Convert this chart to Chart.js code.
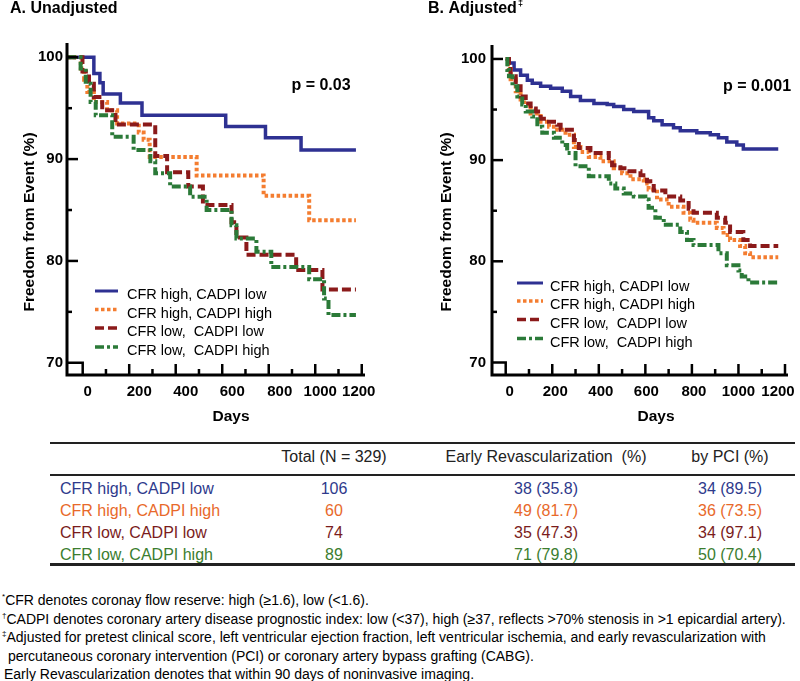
<!DOCTYPE html>
<html><head><meta charset="utf-8">
<script src="https://cdn.jsdelivr.net/npm/chart.js@4.4.1/dist/chart.umd.min.js"></script>
<style>
html,body{margin:0;padding:0;background:#fff;}
#wrap{position:relative;width:800px;height:681px;overflow:hidden;font-family:"Liberation Sans",Arial,sans-serif;color:#000;}
canvas{position:absolute;top:0;}
#cA{left:0;} #cB{left:400px;}
.cell{position:absolute;white-space:pre;font-size:16px;line-height:18px;transform:translate(-50%,-50%);}
.lab{position:absolute;white-space:pre;font-size:16px;line-height:18px;transform:translate(0,-50%);}
.rule{position:absolute;left:50px;width:745px;background:#222;}
.note{position:absolute;white-space:pre;font-size:14px;line-height:16px;transform:translate(0,-50%);}
.note sup{font-size:8px;vertical-align:6px;line-height:0;}
</style></head><body>
<div id="wrap">
<canvas id="cA" width="400" height="430"></canvas>
<canvas id="cB" width="400" height="430"></canvas>
</div>
<script>
// ---------- data ----------
const seriesNames = ['CFR high, CADPI low', 'CFR high, CADPI high', 'CFR low,  CADPI low', 'CFR low,  CADPI high'];
const xTickValues = [0, 100, 200, 300, 400, 500, 600, 700, 800, 900, 1000, 1100, 1200];
const yTickValues = [70, 75, 80, 85, 90, 95, 100];

// Panel A (unadjusted) - days / freedom from event (%)
const daysA_hiLo = [-67, 48, 74, 88, 162, 255, 615, 786, 939, 1175];
const survA_hiLo = [100, 98.4, 97.5, 96.4, 95.5, 94.3, 93.2, 92.1, 90.9, 90.9];
const daysA_hiHi = [-67, -8, 6, 20, 48, 105, 148, 241, 262, 288, 490, 778, 974, 1175];
const survA_hiHi = [100, 98.9, 97.8, 96.6, 95.6, 94.8, 93.5, 92.6, 91.9, 90.2, 88.4, 86.4, 84.0, 84.0];
const daysA_loLo = [-67, -1, 27, 48, 84, 141, 312, 363, 454, 517, 640, 661, 704, 918, 1031, 1175];
const survA_loLo = [100, 98.6, 97.4, 96.1, 94.8, 93.4, 90.3, 88.7, 87.3, 85.5, 83.8, 82.3, 80.6, 79.1, 77.2, 77.2];
const daysA_loHi = [-67, -9, 13, 34, 56, 127, 219, 291, 312, 376, 462, 533, 640, 661, 747, 811, 974, 1038, 1057, 1175];
const survA_loHi = [100, 98.9, 97.4, 95.6, 94.3, 92.2, 90.9, 89.8, 88.6, 87.3, 86.3, 85.0, 83.5, 82.2, 80.9, 79.4, 78.2, 76.3, 74.7, 74.7];

// Panel B (adjusted)
const daysB_hiLo = [0, 14, 36, 64, 93, 114, 150, 193, 243, 279, 321, 379, 436, 464, 507, 550, 614, 636, 672, 721, 750, 821, 879, 914, 950, 993, 1021, 1171];
const survB_hiLo = [100, 99.6, 98.9, 98.4, 97.9, 97.6, 97.3, 97.1, 96.8, 96.3, 95.9, 95.6, 95.5, 95.3, 95.0, 94.8, 94.2, 93.9, 93.5, 93.2, 92.9, 92.7, 92.5, 92.2, 91.8, 91.5, 91.1, 91.1];
const daysB_hiHi = [0, 10, 21, 43, 64, 79, 107, 150, 186, 221, 257, 293, 321, 357, 407, 464, 500, 536, 593, 614, 650, 700, 764, 793, 807, 907, 936, 964, 1007, 1029, 1050, 1171];
const survB_hiHi = [100, 99.0, 98.0, 96.8, 96.0, 95.5, 94.6, 93.8, 93.3, 93.0, 92.5, 91.3, 90.8, 90.3, 89.9, 89.2, 88.7, 88.1, 87.7, 87.1, 86.1, 85.4, 84.8, 84.1, 83.8, 83.3, 82.6, 82.1, 81.5, 80.8, 80.4, 80.4];
const daysB_loLo = [0, 14, 21, 43, 64, 86, 107, 129, 150, 164, 221, 236, 293, 314, 364, 443, 457, 493, 521, 579, 607, 636, 686, 750, 786, 807, 907, 943, 964, 1021, 1050, 1171];
const survB_loLo = [100, 99.0, 98.3, 97.3, 96.3, 95.6, 95.1, 94.8, 94.1, 93.8, 93.5, 93.0, 92.0, 91.2, 90.7, 90.2, 89.5, 89.2, 88.9, 88.5, 87.9, 87.0, 86.4, 86.0, 85.2, 84.8, 84.3, 83.8, 82.9, 82.1, 81.5, 81.5];
const daysB_loHi = [0, 7, 14, 29, 50, 71, 86, 114, 136, 157, 207, 243, 264, 300, 357, 443, 471, 507, 550, 600, 614, 643, 679, 750, 779, 807, 914, 950, 1000, 1014, 1043, 1171];
const survB_loHi = [100, 98.9, 98.3, 97.3, 96.3, 95.5, 94.8, 94.3, 93.3, 92.7, 92.2, 91.5, 90.7, 89.4, 88.4, 87.7, 87.2, 86.7, 86.4, 86.1, 85.3, 84.3, 83.6, 82.9, 82.1, 81.6, 80.8, 79.6, 79.1, 78.5, 77.9, 77.9];

// Table
const tableHeaders = ['Total (N = 329)', 'Early Revascularization  (%)', 'by PCI (%)'];
const tableGroups = ['CFR high, CADPI low', 'CFR high, CADPI high', 'CFR low, CADPI low', 'CFR low, CADPI high'];
const totals = [106, 60, 74, 89];
const earlyN = [38, 49, 35, 71];
const earlyPct = ['35.8', '81.7', '47.3', '79.8'];
const pciN = [34, 36, 34, 50];
const pciPct = ['89.5', '73.5', '97.1', '70.4'];

const footnotes = [
  ['*', 'CFR denotes coronay flow reserve: high (\u22651.6), low (<1.6).'],
  ['\u2020', 'CADPI denotes coronary artery disease prognostic index: low (<37), high (\u226537, reflects >70% stenosis in >1 epicardial artery).'],
  ['\u2021', 'Adjusted for pretest clinical score, left ventricular ejection fraction, left ventricular ischemia, and early revascularization with'],
  ['', ' percutaneous coronary intervention (PCI) or coronary artery bypass grafting (CABG).'],
  ['', 'Early Revascularization denotes that within 90 days of noninvasive imaging.']
];

// ---------- styles ----------
const lineColors = ['#2e3192', '#f47d30', '#8b1a1a', '#2b7a38'];
const lineDashes = [[], [3.5, 2.5], [9, 4], [9, 3, 3, 3]];
const lineWidths = [3.5, 4, 4, 4];
const textColors = ['#2e3a8c', '#e8692a', '#7a1c1c', '#3b7d2f'];
const FONT = "'Liberation Sans', Arial, sans-serif";

Chart.defaults.font.family = FONT;

function pts(days, vals) { return days.map((d, i) => ({ x: d, y: vals[i] })); }

function makeChart(id, cfg) {
  const datasets = cfg.series.map((s, i) => ({
    label: seriesNames[i],
    data: pts(s[0], s[1]),
    stepped: true,
    borderColor: lineColors[i],
    borderDash: lineDashes[i],
    borderWidth: lineWidths[i],
    borderCapStyle: 'butt',
    pointRadius: 0,
    fill: false
  })).reverse();

  const decor = {
    id: 'decor' + id,
    afterDraw(chart) {
      const { ctx, chartArea: ca, scales: { x, y } } = chart;
      ctx.save();
      ctx.strokeStyle = '#000';
      ctx.lineCap = 'butt';
      // axes
      ctx.lineWidth = 3;
      ctx.beginPath();
      ctx.moveTo(ca.left, ca.top); ctx.lineTo(ca.left, ca.bottom); ctx.lineTo(ca.right, ca.bottom);
      ctx.stroke();
      ctx.lineWidth = 2.5;
      // y ticks (inward)
      yTickValues.forEach(v => {
        if (v === yTickValues[0]) return;
        const py = y.getPixelForValue(v);
        const len = v % 10 === 0 ? 11 : 5;
        ctx.beginPath(); ctx.moveTo(ca.left, py); ctx.lineTo(ca.left + len, py); ctx.stroke();
      });
      // x ticks (inward) and labels
      ctx.fillStyle = '#000';
      ctx.font = 'bold 15px ' + FONT;
      ctx.textAlign = 'center';
      ctx.textBaseline = 'middle';
      let li = 0;
      xTickValues.forEach(v => {
        const px = x.getPixelForValue(v);
        if (v % 200 === 0) {
          ctx.fillText(String(v), px + cfg.labelShift[li], 392);
          li++;
        }
        if (v === xTickValues[0]) return;
        const len = v % 200 === 0 ? 11 : 6;
        ctx.beginPath(); ctx.moveTo(px, ca.bottom); ctx.lineTo(px, ca.bottom - len); ctx.stroke();
      });
      // axis-break box
      const bx = x.getPixelForValue(xTickValues[0]);
      const by = y.getPixelForValue(yTickValues[0]);
      ctx.beginPath();
      ctx.moveTo(ca.left, by); ctx.lineTo(bx, by); ctx.lineTo(bx, ca.bottom);
      ctx.stroke();

      // panel title
      ctx.textAlign = 'left';
      ctx.font = 'bold 16px ' + FONT;
      ctx.fillText(cfg.title, cfg.titleX, 9);
      if (cfg.titleSup) {
        const w = ctx.measureText(cfg.title).width;
        ctx.font = 'bold 9px ' + FONT;
        ctx.fillText(cfg.titleSup, cfg.titleX + w + 1, 4);
      }
      // y title
      ctx.save();
      ctx.translate(cfg.yTitleX, 222);
      ctx.rotate(-Math.PI / 2);
      ctx.textAlign = 'center';
      ctx.font = 'bold 15.5px ' + FONT;
      ctx.fillText('Freedom from Event (%)', 0, 0);
      ctx.restore();
      // x title
      ctx.textAlign = 'center';
      ctx.font = 'bold 15.5px ' + FONT;
      ctx.fillText('Days', ca.left + 164, 417);
      // p value
      ctx.font = 'bold 16px ' + FONT;
      ctx.fillText(cfg.pText, cfg.pX, cfg.pY);
      // legend
      ctx.font = '14.5px ' + FONT;
      ctx.textAlign = 'left';
      seriesNames.forEach((n, i) => {
        const ly = cfg.legY[i];
        ctx.save();
        ctx.strokeStyle = lineColors[i];
        ctx.lineWidth = lineWidths[i] - 0.5;
        ctx.setLineDash(lineDashes[i]);
        ctx.beginPath(); ctx.moveTo(cfg.legX0, ly - 4); ctx.lineTo(cfg.legX1, ly - 4); ctx.stroke();
        ctx.restore();
        ctx.fillText(n, cfg.legText, ly);
      });
      ctx.restore();
    }
  };

  return new Chart(document.getElementById(id), {
    type: 'line',
    data: { datasets },
    options: {
      responsive: false,
      animation: false,
      devicePixelRatio: 1,
      layout: { padding: cfg.pad },
      plugins: { legend: { display: false }, tooltip: { enabled: false } },
      scales: {
        x: {
          type: 'linear', min: cfg.xMin, max: cfg.xMax,
          grid: { display: false, drawTicks: false },
          border: { display: false },
          afterBuildTicks: s => { s.ticks = xTickValues.map(v => ({ value: v })); },
          afterFit: s => { s.height = cfg.xHeight; s.paddingLeft = 0; s.paddingRight = 0; },
          ticks: { display: false }
        },
        y: {
          type: 'linear', min: cfg.yMin, max: cfg.yMax,
          grid: { display: false, drawTicks: false },
          border: { display: false },
          afterBuildTicks: s => { s.ticks = yTickValues.map(v => ({ value: v })); },
          afterFit: s => { s.width = cfg.yWidth; s.paddingTop = 0; s.paddingBottom = 0; },
          ticks: {
            autoSkip: false, padding: cfg.yPad,
            color: '#000', font: { size: 15, weight: 'bold' },
            callback: v => (v % 10 === 0 ? String(v) : '')
          }
        }
      }
    },
    plugins: [decor]
  });
}

makeChart('cA', {
  series: [[daysA_hiLo, survA_hiLo], [daysA_hiHi, survA_hiHi], [daysA_loLo, survA_loLo], [daysA_loHi, survA_loHi]],
  xMin: -67.5, xMax: 1214, yMin: 68.8, yMax: 101.4,
  pad: { left: 0, top: 43, right: 35, bottom: 0 }, yWidth: 67, xHeight: 55,
  labelShift: [5, 10, 10, 10, 11, 5, -3], yPad: 4,
  title: 'A. Unadjusted', titleSup: '', titleX: 10,
  yTitleX: 30, pText: 'p = 0.03', pX: 321, pY: 86,
  legX0: 95, legX1: 118, legText: 127, legY: [295, 313.5, 332, 351]
});

makeChart('cB', {
  series: [[daysB_hiLo, survB_hiLo], [daysB_hiHi, survB_hiHi], [daysB_loLo, survB_loLo], [daysB_loHi, survB_loHi]],
  xMin: -58.9, xMax: 1212.9, yMin: 68.76, yMax: 101.38,
  pad: { left: 0, top: 45, right: 12, bottom: 0 }, yWidth: 92, xHeight: 55,
  labelShift: [4, 3, 2, 1, 2, 0, -7], yPad: 6,
  title: 'B. Adjusted', titleSup: '\u2021', titleX: 28,
  yTitleX: 47, pText: 'p = 0.001', pX: 357, pY: 87,
  legX0: 117, legX1: 143, legText: 150, legY: [287, 305, 323.5, 342.5]
});

// ---------- table & notes ----------
const wrap = document.getElementById('wrap');
function add(cls, text, x, y, color) {
  const d = document.createElement('div');
  d.className = cls; d.textContent = text;
  d.style.left = x + 'px'; d.style.top = y + 'px';
  if (color) d.style.color = color;
  wrap.appendChild(d); return d;
}
function rule(y, h) {
  const d = document.createElement('div'); d.className = 'rule';
  d.style.top = y + 'px'; d.style.height = h + 'px'; wrap.appendChild(d);
}
const colX = [334, 546, 730];
const rowY = [488.5, 510.5, 532.5, 554.5];
rule(442, 2); rule(474, 2); rule(563, 2.5);
tableHeaders.forEach((h, i) => add('cell', h, colX[i], 456.5, '#222'));
tableGroups.forEach((g, r) => {
  add('lab', g, 60, rowY[r], textColors[r]);
  add('cell', String(totals[r]), colX[0], rowY[r], textColors[r]);
  add('cell', earlyN[r] + ' (' + earlyPct[r] + ')', colX[1], rowY[r], textColors[r]);
  add('cell', pciN[r] + ' (' + pciPct[r] + ')', colX[2], rowY[r], textColors[r]);
});
const noteY = [600, 618.5, 637, 655.5, 673.5];
const noteX = [2, 2, 2, 4, 4];
footnotes.forEach((f, i) => {
  const d = document.createElement('div');
  d.className = 'note';
  d.style.left = noteX[i] + 'px'; d.style.top = noteY[i] + 'px';
  if (f[0]) { const s = document.createElement('sup'); s.textContent = f[0]; d.appendChild(s); }
  d.appendChild(document.createTextNode(f[1]));
  wrap.appendChild(d);
});
</script>
</body></html>
